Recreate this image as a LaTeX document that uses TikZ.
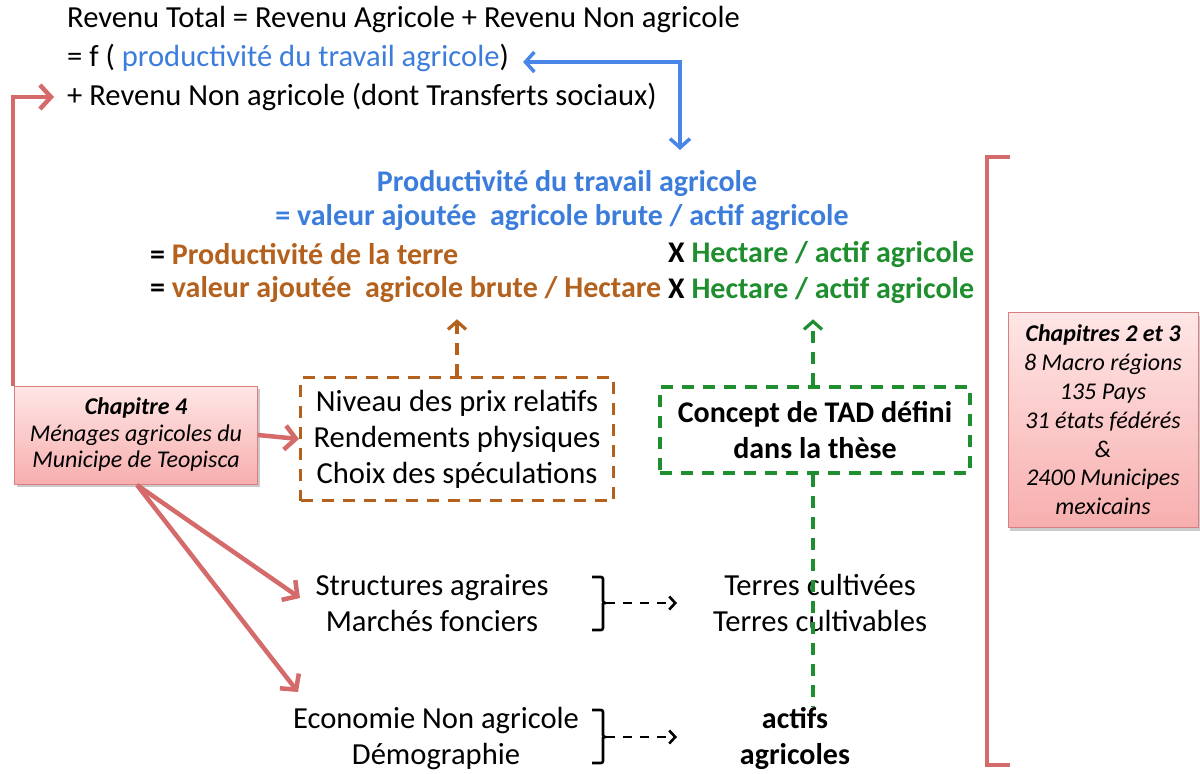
\documentclass[tikz,border=0pt]{standalone}
\usepackage{fontspec}
\setmainfont{Carlito}
\usetikzlibrary{arrows.meta,shadows,calc}
\definecolor{arrblue}{HTML}{4A86E8}
\definecolor{txtblue}{HTML}{3C7DDC}
\definecolor{mybrown}{HTML}{B4611E}
\definecolor{mygreen}{HTML}{1F8E2E}
\definecolor{myred}{HTML}{D46A6A}
\definecolor{boxtop}{HTML}{FFE6E6}
\definecolor{boxbot}{HTML}{F7AEAE}
\definecolor{boxedge}{HTML}{D88080}
\begin{document}
\begin{tikzpicture}[x=1pt,y=-1pt,
  txt/.style={inner sep=0pt, font=\fontsize{30.6}{36}\selectfont},
  btxt/.style={inner sep=0pt, font=\fontsize{30}{36}\selectfont\bfseries},
  multi/.style={align=center, inner sep=0pt, font=\fontsize{30.6}{36}\selectfont},
  chapbox/.style={draw=boxedge, line width=1pt, top color=boxtop, bottom color=boxbot,
     drop shadow={shadow xshift=2pt, shadow yshift=-3pt, fill=black!35, opacity=.6},
     align=center, inner sep=0pt, font=\fontsize{24}{26.5}\selectfont\itshape},
  redarr/.style={draw=myred, line width=4.5pt, -{Straight Barb[length=11pt,width=24pt,line width=4.5pt]}},
  bluearr/.style={draw=arrblue, line width=3.5pt, {Straight Barb[length=9pt,width=20pt,line width=3.5pt]}-{Straight Barb[length=9pt,width=20pt,line width=3.5pt]}},
  dashbox/.style={line width=3.2pt, dash pattern=on 12pt off 9pt},
  darr/.style={line width=3.2pt, dash pattern=on 12pt off 9pt, -{Straight Barb[length=8pt,width=18pt,line width=3.2pt]}},
  brk/.style={draw=black, line width=2.6pt, rounded corners=2pt},
  blkarr/.style={draw=black, line width=2.6pt, dash pattern=on 9pt off 8pt, -{Straight Barb[length=6pt,width=13pt,line width=2.6pt]}}
]
\useasboundingbox (0,0) rectangle (1200,774);

% top equations
\node[txt, anchor=west] (L1) at (67,20) {Revenu Total = Revenu Agricole + Revenu Non agricole};
\node[txt, anchor=west] (L2) at (67,58) {= f ( \textcolor{txtblue}{productivité du travail agricole})};
\node[txt, anchor=west] (L3) at (67,97) {+ Revenu Non agricole (dont Transferts sociaux)};

% middle block
\node[btxt, text=txtblue] (M1) at (567,183) {Productivité du travail agricole};
\node[btxt, text=txtblue] (M2) at (562,217) {= valeur ajoutée\ \ agricole brute / actif agricole};
\node[btxt, anchor=west] (M3a) at (150,254) {= \textcolor{mybrown}{Productivité de la terre}};
\node[btxt, anchor=west] (M3b) at (668,254) {X \textcolor{mygreen}{Hectare / actif agricole}};
\node[btxt, anchor=west] (M4a) at (150,290) {= \textcolor{mybrown}{valeur ajoutée\ \ agricole brute / Hectare}};
\node[btxt, anchor=west] (M4b) at (668,290) {X \textcolor{mygreen}{Hectare / actif agricole}};

% boxes
\node[draw=mybrown, dashbox, minimum width=313pt, minimum height=123pt, multi] (BB) at (457,439)
  {Niveau des prix relatifs\\Rendements physiques\\Choix des spéculations};
\node[draw=mygreen, dashbox, minimum width=310pt, minimum height=86pt, multi, font=\fontsize{30}{36}\selectfont\bfseries] (GB) at (815,430)
  {Concept de TAD défini\\dans la thèse};

\node[chapbox, minimum width=243pt, minimum height=98pt] (C4) at (136,435)
  {\textbf{Chapitre 4}\\Ménages agricoles du\\Municipe de Teopisca};
\node[chapbox, minimum width=190pt, minimum height=215pt, font=\fontsize{24}{28.8}\selectfont\itshape] (C23) at (1103,420)
  {\textbf{Chapitres 2 et 3}\\8 Macro régions\\135 Pays\\31 états fédérés\\\&\\2400 Municipes\\mexicains};

% lower texts
\node[multi] (ST) at (432,603) {Structures agraires\\Marchés fonciers};
\node[multi] (TE) at (820,603) {Terres cultivées\\Terres cultivables};
\node[multi] (EC) at (436,738) {Economie Non agricole\\Démographie};
\node[multi, font=\fontsize{30}{36}\selectfont\bfseries] (AC) at (795,738) {actifs\\agricoles};

% blue double elbow arrow
\coordinate (bcorner) at (680,62);
\draw[bluearr] ([xshift=14pt,yshift=-4pt]L2.east) -- (bcorner) -- (bcorner |- 0,150);

% red elbow arrow from chapter 4 to line 3
\draw[redarr] ([xshift=-1pt]C4.north west) |- ([xshift=-13pt]L3.west);

% red arrows from chapter 4
\draw[redarr] (C4.east) -- (BB.west);
\coordinate (c4s) at (137,485);
\coordinate (t1) at (300,598);
\coordinate (t2) at (298,692);
\draw[redarr] (c4s) -- (t1);
\draw[redarr] (c4s) -- (t2);

% brown and green dashed arrows
\draw[draw=mybrown, darr] (BB.north) -- ([yshift=-16pt]BB.north |- M4a.south);
\draw[draw=mygreen, darr] ([xshift=-2pt]GB.north) -- ([yshift=-16pt,xshift=-2pt]GB.north |- M4b.south);
\draw[draw=mygreen, dashbox] ([xshift=-2pt]GB.south) -- ([xshift=-2pt]GB.south |- AC.north);

% braces and black dashed arrows
\coordinate (b1) at (606,603);
\draw[brk] (592,577) -- (603,577) -- (603,603) -- (606,603) (603,603) -- (603,630) -- (592,630);
\draw[blkarr] (b1) -- (b1 -| 677,0);
\coordinate (b2) at (606,737);
\draw[brk] (592,710) -- (603,710) -- (603,737) -- (606,737) (603,737) -- (603,763) -- (592,763);
\draw[blkarr] (b2) -- (b2 -| 677,0);

% right bracket
\draw[draw=myred, line width=4.5pt, line cap=butt] (1010,157) -- (987,157) -- (987,765) -- (1010,765);
\end{tikzpicture}
\end{document}
